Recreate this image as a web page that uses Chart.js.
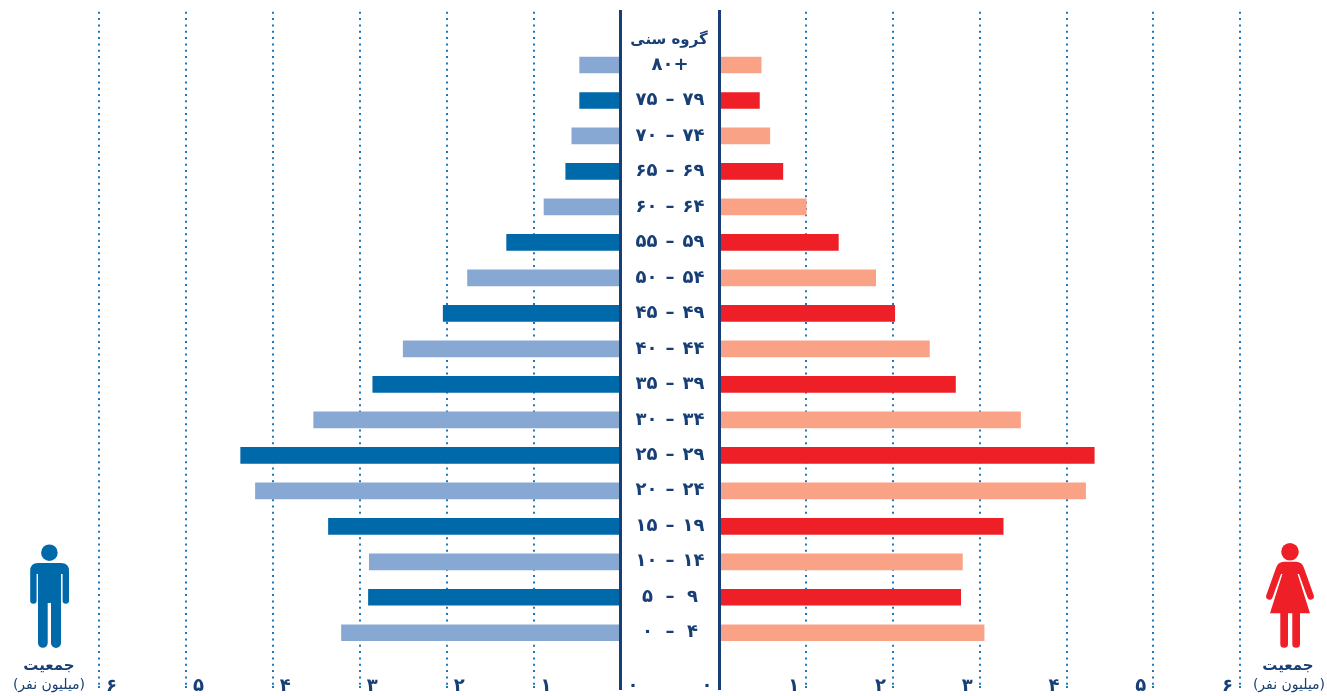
<!DOCTYPE html>
<html lang="fa">
<head>
<meta charset="utf-8">
<title>هرم جمعیت</title>
<script src="https://cdn.jsdelivr.net/npm/chart.js@4/dist/chart.umd.min.js"></script>
<style>
  html, body { margin: 0; padding: 0; background: #fff; }
  #stage { position: relative; width: 1327px; height: 696px; overflow: hidden; font-family: "DejaVu Sans", sans-serif; color: #173f75; }
  canvas { position: absolute; top: 0; }
  #maleChart { left: 0; }
  #femaleChart { left: 620px; }
  .txt { position: absolute; direction: rtl; text-align: center; white-space: nowrap; transform: translateX(-50%); line-height: 1; }
  .bold { font-weight: bold; font-size: 15px; }
  .unit { font-size: 14px; }
  svg { position: absolute; left: 0; top: 0; }
</style>
</head>
<body>
<div id="stage">
  <canvas id="maleChart" width="660" height="696"></canvas>
  <canvas id="femaleChart" width="707" height="696"></canvas>

  <div class="txt bold" style="left:669px; top:32px;">گروه سنی</div>

  <svg width="1327" height="696" viewBox="0 0 1327 696">
    <circle cx="49.4" cy="552.7" r="8.3" fill="#0069aa"/>
    <path fill="#0069aa" d="M38,563 H61 Q69,563 69,571 V600.5 a3.2,3.2 0 0 1 -6.4,0 V574 H61 V643 A4.8,4.8 0 0 1 51,643 V603 H47.7 V643 A4.8,4.8 0 0 1 38,643 V574 H36.6 V600.5 a3.2,3.2 0 0 1 -6.4,0 V571 Q30.2,563 38,563 Z"/>
    <circle cx="1290" cy="551.7" r="8.8" fill="#ee1f26"/>
    <path fill="#ee1f26" d="M1284,561.7 H1296 Q1302,561.7 1304,568 L1313.8,595.5 a3.3,3.3 0 0 1 -6.2,2.2 L1299,574 H1297.6 L1310,613.3 H1300 V644 A3.85,3.85 0 0 1 1292.3,644 V613.3 H1288 V644 A3.85,3.85 0 0 1 1280.3,644 V613.3 H1270 L1282.4,574 H1281 L1272.4,597.7 a3.3,3.3 0 0 1 -6.2,-2.2 L1276,568 Q1278,561.7 1284,561.7 Z"/>
  </svg>

  <div class="txt bold" style="left:49px; top:658px;">جمعیت</div>
  <div class="txt unit" style="left:49px; top:677px;">(میلیون نفر)</div>
  <div class="txt bold" style="left:1288px; top:658px;">جمعیت</div>
  <div class="txt unit" style="left:1289px; top:677px;">(میلیون نفر)</div>
</div>

<script>
const ageGroups = ['۸۰+', '۷۵ \u200A–\u200A ۷۹', '۷۰ \u200A–\u200A ۷۴', '۶۵ \u200A–\u200A ۶۹', '۶۰ \u200A–\u200A ۶۴', '۵۵ \u200A–\u200A ۵۹', '۵۰ \u200A–\u200A ۵۴', '۴۵ \u200A–\u200A ۴۹', '۴۰ \u200A–\u200A ۴۴',
  '۳۵ \u200A–\u200A ۳۹', '۳۰ \u200A–\u200A ۳۴', '۲۵ \u200A–\u200A ۲۹', '۲۰ \u200A–\u200A ۲۴', '۱۵ \u200A–\u200A ۱۹', '۱۰ \u200A–\u200A ۱۴', '۵  –  ۹', '۰  –  ۴'];
const maleValues = [0.47, 0.47, 0.56, 0.63, 0.88, 1.31, 1.76, 2.04, 2.5, 2.85, 3.53, 4.37, 4.2, 3.36, 2.89, 2.9, 3.21];
const femaleValues = [0.48, 0.46, 0.58, 0.73, 1.0, 1.37, 1.8, 2.02, 2.42, 2.72, 3.47, 4.32, 4.22, 3.27, 2.8, 2.78, 3.05];
const xTickLabels = ['۰', '۱', '۲', '۳', '۴', '۵', '۶'];

const maleColors = ['#88a8d4', '#0069aa'];
const femaleColors = ['#f9a286', '#ee1f26'];
const navy = '#173f75';
const dotBlue = '#1a78bb';
const dots = [2, 4.33];

// one empty row above and below gives the room for the header and the x labels
const rowLabels = ['', ...ageGroups, ''];
const pad = values => [null, ...values, null];
const rowColors = (colors) => rowLabels.map((_, i) => colors[i % 2 === 1 ? 0 : 1]);

function valueAxis(reverse, align, labelOffset) {
  return {
    type: 'linear',
    reverse: reverse,
    min: 0,
    max: 6,
    afterFit: scale => { scale.height = 10; },
    afterBuildTicks: scale => { scale.ticks = xTickLabels.map((_, i) => ({ value: i })); },
    grid: {
      color: ctx => ctx.tick.value === 0 ? navy : dotBlue,
      lineWidth: ctx => ctx.tick.value === 0 ? 3 : 2,
      tickLength: 4,
      tickBorderDash: ctx => ctx.tick.value === 0 ? [] : dots
    },
    border: { display: false, dash: ctx => ctx.tick.value === 0 ? [] : dots },
    ticks: {
      callback: (value, i) => xTickLabels[i],
      align: align,
      labelOffset: labelOffset,
      // mirror keeps the labels out of the scale's clip box, they sit beside the grid lines
      mirror: true,
      padding: -11,
      autoSkip: false,
      maxRotation: 0,
      color: navy,
      font: { family: 'DejaVu Sans', size: 18, weight: 'bold' }
    }
  };
}

function barDataset(values, colors) {
  return { data: pad(values), backgroundColor: rowColors(colors), barThickness: 16 };
}

new Chart(document.getElementById('maleChart'), {
  type: 'bar',
  data: { labels: rowLabels, datasets: [barDataset(maleValues, maleColors)] },
  options: {
    indexAxis: 'y',
    responsive: false,
    animation: false,
    layout: { padding: { left: 99, right: 39.5, top: 11.75, bottom: 0 } },
    plugins: { legend: { display: false }, tooltip: { enabled: false } },
    scales: {
      x: valueAxis(true, 'start', 7),
      y: {
        position: 'right',
        grid: { display: false, drawTicks: false },
        border: { display: true, color: navy, width: 3, z: 1 },
        ticks: { display: false }
      }
    }
  }
});

new Chart(document.getElementById('femaleChart'), {
  type: 'bar',
  data: { labels: rowLabels, datasets: [barDataset(femaleValues, femaleColors)] },
  options: {
    indexAxis: 'y',
    responsive: false,
    animation: false,
    layout: { padding: { left: 0, right: 87, top: 11.75, bottom: 0 } },
    plugins: { legend: { display: false }, tooltip: { enabled: false } },
    scales: {
      x: valueAxis(false, 'end', -7),
      y: {
        position: 'left',
        afterFit: scale => { scale.width = 99.5; scale.paddingTop = 0; scale.paddingBottom = 0; },
        grid: { display: false, drawTicks: false },
        border: { display: true, color: navy, width: 3, z: 1 },
        ticks: {
          autoSkip: false,
          crossAlign: 'center',
          padding: 15,
          color: navy,
          font: { family: 'DejaVu Sans', size: 18, weight: 'bold' }
        }
      }
    }
  }
});
</script>
</body>
</html>
